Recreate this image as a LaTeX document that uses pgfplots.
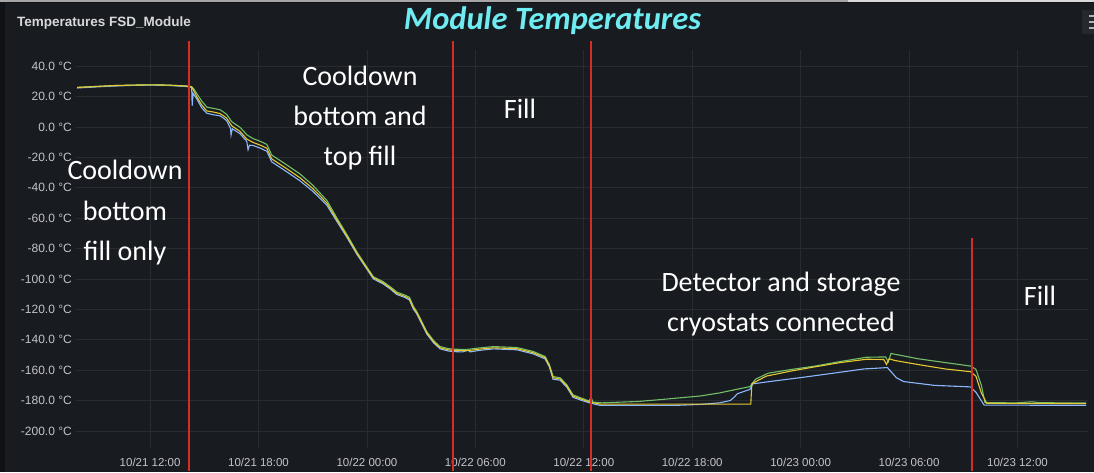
\documentclass[border=0pt]{standalone}
\usepackage{fontspec}
\setmainfont{Liberation Sans}
\newfontfamily\calfont{Carlito}
\usepackage{pgfplots}
\usepackage{pgfplotstable}
\pgfplotsset{compat=1.18}
\definecolor{outerbg}{RGB}{16,17,21}
\definecolor{panelbg}{RGB}{24,27,31}
\definecolor{gridc}{RGB}{40,43,48}
\definecolor{tickc}{RGB}{195,195,205}
\definecolor{titlec}{RGB}{216,217,218}
\definecolor{sgreen}{RGB}{115,191,105}
\definecolor{syellow}{RGB}{230,200,50}
\definecolor{sblue}{RGB}{138,184,255}
\definecolor{redline}{RGB}{214,44,38}
\definecolor{cyantitle}{RGB}{110,236,242}
\definecolor{iconbg}{RGB}{37,40,45}

% hours since 10/21 00:00, temperature in deg C
\pgfplotstableread{
h T
7.96 26.0
9 26.6
10 27.2
11 27.5
12 27.7
13 27.5
14 26.9
14.3 26.3
14.45 23.0
14.58 19.9
14.86 14.4
15.14 10.5
15.5 9.8
15.87 8.8
16.1 7.0
16.24 5.7
16.52 0.7
16.98 -3.0
17.35 -8.0
17.72 -10.3
18.1 -12.0
18.46 -14.0
18.73 -21.0
19.5 -27.0
20.3 -33.5
21.0 -40.5
21.78 -50.0
22.33 -61.0
22.9 -72.0
23.44 -83.0
24.0 -93.0
24.36 -99.3
24.9 -102.6
25.3 -106.0
25.65 -109.5
26.1 -111.5
26.35 -113.0
26.57 -119.0
26.76 -122.3
27.0 -128.0
27.31 -135.4
27.7 -141.5
28.05 -145.3
28.5 -146.6
28.78 -147.0
29.53 -147.2
30.2 -146.2
31.0 -145.3
32.3 -145.9
33.2 -148.5
33.86 -151.8
34.1 -157.3
34.3 -165.0
34.69 -165.8
35.06 -170.4
35.4 -177.0
35.9 -179.2
36.35 -181.0
36.9 -182.3
45.24 -182.3
45.3 -168.9
46.1 -163.9
47.5 -160.5
48.8 -157.8
50.2 -155.0
51.66 -152.8
52.6 -153.0
52.75 -156.2
52.9 -152.5
53.2 -153.6
54.5 -156.3
56.0 -159.2
57.4 -161.0
57.7 -164.0
58.0 -175.0
58.3 -181.8
60 -181.8
63.8 -182.0
}\yellowdata

\pgfplotstableread{
h T
7.96 26.0
9 26.6
10 27.2
11 27.5
12 27.7
13 27.5
14 26.9
14.3 26.5
14.45 24.5
14.58 22.0
14.86 17.0
15.14 13.0
15.5 12.2
15.87 11.3
16.1 9.5
16.24 8.2
16.52 3.4
16.98 -0.3
17.35 -5.2
17.72 -7.8
18.1 -9.5
18.46 -11.5
18.73 -18.5
19.5 -24.5
20.3 -31.0
21.0 -38.3
21.78 -48.3
22.33 -59.8
22.9 -71.0
23.44 -82.2
24.0 -92.3
24.36 -98.6
24.9 -101.8
25.3 -105.2
25.65 -108.6
26.1 -110.6
26.35 -112.0
26.57 -118.0
26.76 -121.5
27.0 -127.2
27.31 -134.6
27.7 -140.7
28.05 -144.5
28.5 -145.8
28.78 -146.2
29.53 -146.4
30.2 -145.4
31.0 -144.5
32.3 -145.1
33.2 -147.7
33.86 -151.0
34.1 -156.5
34.3 -164.2
34.69 -165.0
35.06 -169.6
35.4 -176.2
35.9 -178.5
36.3 -180.3
36.4 -177.5
36.5 -181.0
37.0 -181.5
39.0 -180.6
40.3 -179.3
41.5 -178.0
42.44 -177.0
43.5 -175.0
44.5 -172.5
45.2 -170.8
45.5 -166.0
46.2 -162.0
47.5 -159.5
48.8 -157.3
50.2 -154.3
51.65 -151.5
52.7 -151.3
52.85 -154.5
53.0 -149.0
53.2 -149.5
54.5 -152.5
56.0 -155.0
57.4 -157.3
57.7 -159.5
58.0 -170.0
58.2 -181.4
60.0 -181.5
60.8 -180.8
61.2 -181.4
63.8 -181.6
}\greendata

\pgfplotstableread{
h T
7.96 25.6
9 26.3
10 26.9
11 27.3
12 27.5
13 27.3
14 26.6
14.3 26.0
14.33 14.0
14.38 22.0
14.58 18.5
14.86 12.5
15.14 9.0
15.5 8.0
15.87 7.3
16.1 5.5
16.24 4.0
16.45 -1.0
16.48 -5.3
16.55 -1.2
16.98 -4.5
17.35 -9.5
17.42 -15.0
17.5 -12.0
17.72 -12.3
18.1 -14.0
18.46 -16.0
18.73 -23.0
19.5 -29.0
20.3 -35.5
21.0 -42.3
21.78 -51.5
22.33 -62.0
22.9 -72.8
23.44 -83.7
24.0 -93.6
24.36 -100.0
24.9 -103.3
25.3 -106.7
25.65 -110.2
26.1 -112.2
26.35 -113.8
26.57 -119.8
26.76 -123.0
27.0 -128.8
27.31 -136.2
27.7 -142.2
28.05 -146.0
28.5 -147.4
28.78 -147.8
29.3 -148.0
29.6 -146.8
29.7 -148.0
30.2 -147.0
31.0 -146.0
32.3 -146.6
33.2 -149.3
33.86 -152.6
34.1 -158.0
34.3 -166.0
34.69 -166.6
35.06 -171.2
35.4 -177.8
35.9 -180.0
36.35 -181.6
36.9 -183.2
41.0 -183.2
42.5 -182.5
43.5 -181.5
44.1 -180.0
44.3 -178.0
44.5 -175.5
45.2 -172.6
45.35 -169.0
46.4 -167.3
48.0 -164.9
49.8 -162.0
51.5 -159.2
52.8 -158.3
53.0 -161.0
53.3 -165.0
53.7 -167.5
55.4 -170.0
57.4 -171.0
57.7 -174.5
58.15 -183.0
63.8 -183.1
}\bluedata

\begin{document}
\begin{tikzpicture}[x=1pt,y=1pt]
\useasboundingbox (0,0) rectangle (1094,472);
\fill[outerbg] (0,0) rectangle (1094,472);
\fill[panelbg] (5,0) rectangle (1094,469);
\draw[gray!70, line width=1.5pt] (0,471.2) -- (848,471.2);
\draw[gray!30, line width=1.5pt] (848,471.2) -- (1094,471.2);
% menu icon
\fill[iconbg] (1082,438) rectangle (1094,462);
\foreach \yy in {456,450,444} {\draw[gray!60, line width=1.2pt] (1089,\yy) -- (1094,\yy);}
% panel title
\node[anchor=base west, inner sep=0pt, text=titlec, font=\fontsize{13.5}{15}\selectfont\bfseries] at (17,445) {Temperatures FSD\_Module};

\begin{axis}[
  at={(76pt,24pt)}, anchor=south west,
  scale only axis, width=1012pt, height=398pt,
  xmin=7.9, xmax=63.9, ymin=-211.2, ymax=50.6,
  axis line style={draw=none},
  tick style={draw=none},
  grid=major,
  major grid style={draw=gridc, line width=0.7pt},
  xtick={12,18,24,30,36,42,48,54,60},
  xticklabels={10/21 12:00,10/21 18:00,10/22 00:00,10/22 06:00,10/22 12:00,10/22 18:00,10/23 00:00,10/23 06:00,10/23 12:00},
  ytick={-200,-180,-160,-140,-120,-100,-80,-60,-40,-20,0,20,40},
  yticklabels={-200.0 °C,-180.0 °C,-160.0 °C,-140.0 °C,-120.0 °C,-100.0 °C,-80.0 °C,-60.0 °C,-40.0 °C,-20.0 °C,0.0 °C,20.0 °C,40.0 °C},
  ticklabel style={font=\fontsize{11.5}{13}\selectfont, text=tickc},
  xticklabel style={anchor=base, yshift=-18pt},
  yticklabel style={anchor=east, inner sep=0pt, xshift=-4pt, font=\fontsize{12}{13}\selectfont},
  clip=false,
]
\addplot[sblue, line width=1.1pt, no markers] table[x=h,y=T] {\bluedata};
\addplot[sgreen, line width=1.1pt, no markers] table[x=h,y=T] {\greendata};
\addplot[syellow, line width=1.1pt, no markers] table[x=h,y=T] {\yellowdata};
% phase markers
\draw[redline, line width=2.2pt] (axis cs:14.16,56.4) -- (axis cs:14.16,-226.4);
\draw[redline, line width=2.2pt] (axis cs:28.77,56.4) -- (axis cs:28.77,-226.4);
\draw[redline, line width=2.2pt] (axis cs:36.40,56.4) -- (axis cs:36.40,-226.4);
\draw[redline, line width=2.2pt] (axis cs:57.49,-72.8) -- (axis cs:57.49,-226.4);
\end{axis}

% annotations (picture coordinates, y measured from the bottom)
\node[anchor=base, inner sep=0pt, text=cyantitle, font=\calfont\fontsize{32.5}{36}\selectfont\bfseries\itshape] at (552.5,442) {Module Temperatures};
\begin{scope}[every node/.style={anchor=base, inner sep=0pt, text=white, font=\calfont\fontsize{28}{32}\selectfont}]
\node at (125,292) {Cooldown};
\node at (125,252) {bottom};
\node at (125,212) {fill only};
\node at (360,386) {Cooldown};
\node at (360,346) {bottom and};
\node at (360,306) {top fill};
\node at (520,353) {Fill};
\node at (781,180.3) {Detector and storage};
\node at (781,140.3) {cryostats connected};
\node at (1040,167) {Fill};
\end{scope}
\end{tikzpicture}
\end{document}
